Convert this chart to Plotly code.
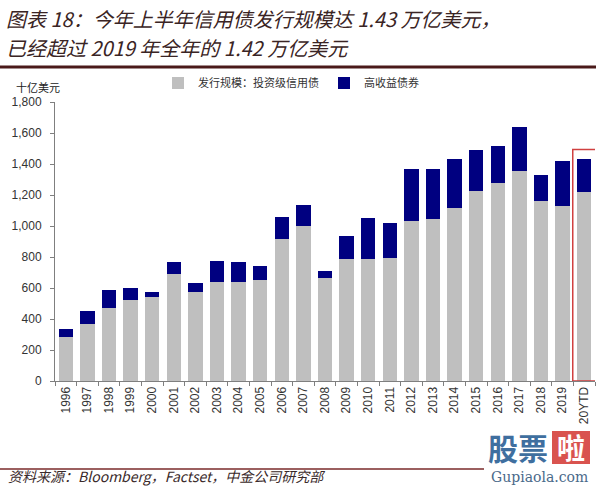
import plotly.graph_objects as go

categories = ["1996", "1997", "1998", "1999", "2000", "2001", "2002", "2003", "2004",
              "2005", "2006", "2007", "2008", "2009", "2010", "2011", "2012", "2013",
              "2014", "2015", "2016", "2017", "2018", "2019", "20YTD"]
investment_grade = [285, 365, 472, 520, 540, 690, 575, 640, 637, 652, 915, 1000, 665,
                    790, 787, 795, 1035, 1042, 1118, 1228, 1280, 1357, 1163, 1132, 1222]
high_yield = [50, 87, 114, 78, 32, 75, 58, 132, 133, 93, 140, 135, 43,
              147, 262, 222, 330, 328, 313, 260, 233, 283, 165, 288, 208]
y_ticks = [0, 200, 400, 600, 800, 1000, 1200, 1400, 1600, 1800]
y_tick_labels = ["0", "200", "400", "600", "800", "1,000", "1,200", "1,400", "1,600", "1,800"]

title_line1 = "图表 18：今年上半年信用债发行规模达 1.43 万亿美元，"
title_line2 = "已经超过 2019 年全年的 1.42 万亿美元"
source_text = "资料来源：Bloomberg，Factset，中金公司研究部"
unit_text = "十亿美元"
name_ig = "发行规模：投资级信用债"
name_hy = "高收益债券"

W, H = 600, 486
L, R, T, B = 55, 5, 102, 105
PW = W - L - R
PH = H - T - B


def px(x):
    return (x - L) / PW


def py(y):
    return (H - B - y) / PH


fig = go.Figure()
fig.add_trace(go.Bar(x=categories, y=investment_grade, name=name_ig,
                     marker=dict(color="#BFBFBF", line=dict(width=0))))
fig.add_trace(go.Bar(x=categories, y=high_yield, name=name_hy,
                     marker=dict(color="#000080", line=dict(width=0))))

cjk = "Noto Sans CJK SC"
title_color = "#3a2424"

fig.update_layout(
    width=W, height=H,
    margin=dict(l=L, r=R, t=T, b=B, pad=0),
    barmode="stack", bargap=0.34,
    plot_bgcolor="white", paper_bgcolor="white",
    showlegend=True,
    legend=dict(orientation="h", x=px(158), y=py(83), xanchor="left", yanchor="middle",
                font=dict(family=cjk, size=11, color="#333333"),
                itemwidth=30, traceorder="normal", bgcolor="rgba(0,0,0,0)",
                itemsizing="constant"),
    xaxis=dict(type="category", showline=True, linecolor="#7f7f7f", linewidth=1,
               ticks="outside", tickson="boundaries", ticklen=4, tickcolor="#7f7f7f",
               tickangle=-90, tickfont=dict(family="Liberation Sans", size=12, color="#333333"),
               showgrid=False, range=[-0.5, len(categories) - 0.5]),
    yaxis=dict(range=[0, 1800], tickvals=y_ticks, ticktext=y_tick_labels,
               showline=True, linecolor="#7f7f7f", linewidth=1, ticks="outside",
               ticklen=4, tickcolor="#7f7f7f", showgrid=False, zeroline=False,
               tickfont=dict(family="Liberation Sans", size=12, color="#333333"),
               ticklabelstandoff=6),
)

annotations = [
    dict(text=title_line1, x=px(4), y=py(19), xanchor="left", yanchor="middle",
         font=dict(family=cjk, size=20, color=title_color, style="italic")),
    dict(text=title_line2, x=px(4), y=py(48), xanchor="left", yanchor="middle",
         font=dict(family=cjk, size=20, color=title_color, style="italic")),
    dict(text=unit_text, x=px(14), y=py(87), xanchor="left", yanchor="middle",
         font=dict(family=cjk, size=11, color="#222222")),
    dict(text=source_text, x=px(6), y=py(476), xanchor="left", yanchor="middle",
         font=dict(family=cjk, size=14, color="#3a2a2a", style="italic")),
    dict(text="<b>股票</b>", x=px(486), y=py(447), xanchor="left", yanchor="middle",
         font=dict(family=cjk, size=30, color="#3f6f9f")),
    dict(text="<b>啦</b>", x=px(571), y=py(447), xanchor="center", yanchor="middle",
         font=dict(family=cjk, size=28, color="white")),
    dict(text="Gupiaola.com", x=px(539), y=py(477), xanchor="center", yanchor="middle",
         font=dict(family="DejaVu Serif", size=14, color="#4a6a8a")),
]
for a in annotations:
    a.update(xref="paper", yref="paper", showarrow=False)
fig.update_layout(annotations=annotations)

idx = categories.index("20YTD")
total_ytd = investment_grade[idx] + high_yield[idx]
shapes = [
    # top rule under title
    dict(type="line", xref="paper", yref="paper", x0=px(0), x1=px(596), y0=py(67), y1=py(67),
         line=dict(color="#4a1a1a", width=3)),
    # bottom rule above source
    dict(type="line", xref="paper", yref="paper", x0=px(0), x1=px(484), y0=py(469), y1=py(469),
         line=dict(color="#7a2a2a", width=1.5)),
    # highlight box on latest bar
    dict(type="rect", xref="x", yref="y", x0=idx - 0.53, x1=idx + 0.57, y0=0,
         y1=total_ytd * 1.045, line=dict(color="#d04040", width=1.5), fillcolor="rgba(0,0,0,0)"),
    # watermark red box
    dict(type="rect", xref="paper", yref="paper", x0=px(552), x1=px(590), y0=py(464), y1=py(431),
         fillcolor="#d9534f", line=dict(width=0), layer="below"),
]
fig.update_layout(shapes=shapes)

fig.write_html("out.html", config={"displayModeBar": False},
               post_script="document.body.style.margin='0';document.body.style.overflow='hidden';")
